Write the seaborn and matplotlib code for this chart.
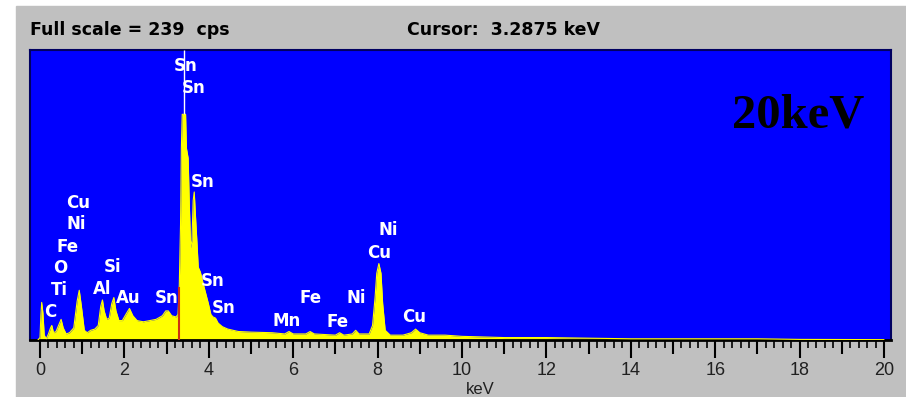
import numpy as np
import pandas as pd
import matplotlib
matplotlib.use('Agg')
import matplotlib.pyplot as plt
from matplotlib.patches import Rectangle
import seaborn as sns

sns.set_style('white')
plt.rcParams['font.family'] = ['Liberation Sans', 'DejaVu Sans']

# EDS spectrum (keV, cps)
energy = [-0.05, 0.00, 0.02, 0.04, 0.07, 0.10, 0.15, 0.20, 0.25, 0.28, 0.32, 0.38,
          0.44, 0.50, 0.55, 0.62, 0.70, 0.80, 0.88, 0.93, 0.98, 1.05, 1.12, 1.20,
          1.30, 1.38, 1.44, 1.48, 1.52, 1.58, 1.64, 1.70, 1.75, 1.80, 1.87, 1.95,
          2.05, 2.12, 2.20, 2.30, 2.45, 2.60, 2.75, 2.90, 2.98, 3.04, 3.12, 3.22,
          3.27, 3.30, 3.33, 3.35, 3.37, 3.45, 3.47, 3.51, 3.54, 3.57, 3.60, 3.63,
          3.655, 3.68, 3.72, 3.75, 3.80, 3.87, 3.93, 3.99, 4.05, 4.10, 4.16, 4.22,
          4.32, 4.45, 4.70, 5.00, 5.50, 5.80, 5.90, 6.00, 6.30, 6.40, 6.50, 7.00,
          7.10, 7.20, 7.40, 7.48, 7.56, 7.80, 7.88, 7.94, 7.98, 8.03, 8.08, 8.12,
          8.18, 8.30, 8.60, 8.80, 8.90, 9.00, 9.20, 9.60, 10.0, 11.0, 12.0, 13.0,
          14.0, 16.0, 17.0, 18.0, 20.0]
counts = [0, 2, 20, 31, 22, 4, 1, 5, 10, 12, 6, 7,
          12, 17, 10, 5, 6, 10, 32, 41, 28, 8, 6, 8,
          9, 12, 28, 33, 24, 17, 18, 30, 35, 24, 16, 16,
          22, 26, 20, 16, 15, 16, 17, 20, 24, 24, 20, 19,
          21, 44, 95, 158, 186, 186, 158, 150, 110, 76, 82, 115,
          122, 105, 80, 60, 56, 46, 38, 30, 21, 19, 18, 14,
          11, 9, 7, 6.5, 6, 5, 7, 5, 5, 7, 5, 4,
          6, 4, 5, 8, 5, 5, 12, 35, 55, 63, 55, 30,
          8, 4, 4, 6, 9, 6, 4, 4, 3, 2, 2, 1.5,
          1, 1, 1, 0.5, 0.3]

# Sn L-alpha tip drawn as a thin line above the yellow body
sn_tip_kev = 3.42
sn_tip_base = 186

cursor_kev = 3.2875
cursor_top = 44
full_scale = 239

# peak labels: (text, keV, cps)
labels = [
    ('Sn', 3.44, 226), ('Sn', 3.63, 208), ('Sn', 3.86, 130),
    ('Cu', 0.90, 113), ('Ni', 0.85, 96), ('Fe', 0.66, 77), ('O', 0.47, 59),
    ('Ti', 0.47, 41), ('C', 0.24, 23), ('Si', 1.71, 60), ('Al', 1.47, 42),
    ('Au', 2.09, 35), ('Sn', 3.01, 35), ('Sn', 4.10, 49), ('Sn', 4.36, 26),
    ('Mn', 5.85, 16), ('Fe', 6.40, 35), ('Fe', 7.04, 15), ('Ni', 7.49, 35),
    ('Ni', 8.25, 91), ('Cu', 8.03, 72), ('Cu', 8.86, 19),
]

xticks = list(range(0, 21, 2))

spec = pd.DataFrame({'keV': energy, 'cps': counts})

W, H = 906, 397
fig = plt.figure(figsize=(W / 100, H / 100), dpi=100, facecolor='white')
fig.patches.append(Rectangle((16 / W, 0), 1 - 16 / W, 1 - 6 / H,
                             transform=fig.transFigure, color='#c0c0c0', zorder=-10))

ax = fig.add_axes([30 / W, 1 - 340 / H, 861 / W, 290 / H])
ax.set_zorder(1)
ax.set_facecolor('#0000ff')

ax.fill_between(spec['keV'], spec['cps'], color='#ffff00', lw=0, zorder=2)
sns.lineplot(data=spec, x='keV', y='cps', ax=ax, color='#ffff00', lw=0.8, zorder=3)
ax.vlines(sn_tip_kev, sn_tip_base, full_scale, color='white', lw=1, zorder=3)
ax.vlines(cursor_kev, 0, cursor_top, color='#d03010', lw=1.5, zorder=4)

for txt, xk, yc in labels:
    ax.text(xk, yc, txt, color='white', fontsize=12, fontweight='bold',
            family=['DejaVu Sans'], ha='center', va='center', zorder=5)

ax.text(0.892, 0.773, '20keV', transform=ax.transAxes, fontsize=35, fontweight='bold',
        family=['Liberation Serif', 'DejaVu Serif'], color='black', ha='center', va='center')

ax.set_xlim(-0.237, 20.166)
ax.set_ylim(0, full_scale)
ax.set_yticks([])
ax.set_xticks(xticks)
ax.set_xticklabels([str(t) for t in xticks], fontsize=13, color='#202020')
ax.set_xticks(np.arange(0, 20.01, 0.2), minor=True)
ax.tick_params(axis='x', which='major', length=13, width=1.5, color='black',
               direction='out', pad=3, bottom=True)
ax.tick_params(axis='x', which='minor', length=6, width=1.2, color='black',
               direction='out', bottom=True)
sec = ax.secondary_xaxis('bottom')
sec.set_xticks(list(range(1, 20, 2)))
sec.set_xticklabels([])
sec.tick_params(length=10, width=1.5, color='black')
sec.spines['bottom'].set_visible(False)

ax.set_xlabel('keV', fontsize=12, color='#202020')
ax.xaxis.set_label_coords(0.523, -0.145)
ax.set_ylabel('')

for side in ['top', 'left', 'right']:
    ax.spines[side].set_color('#000060')
    ax.spines[side].set_linewidth(1.5)
ax.spines['bottom'].set_color('black')
ax.spines['bottom'].set_linewidth(2)

hdr_font = ['DejaVu Sans']
fig.text(30 / W, 1 - 30 / H, 'Full scale = 239  cps', fontsize=12.5, fontweight='bold',
         family=hdr_font, ha='left', va='center', color='black')
fig.text(407 / W, 1 - 30 / H, 'Cursor:  3.2875 keV', fontsize=12.5, fontweight='bold',
         family=hdr_font, ha='left', va='center', color='black')

fig.savefig('out.png', dpi=100, facecolor=fig.get_facecolor())
